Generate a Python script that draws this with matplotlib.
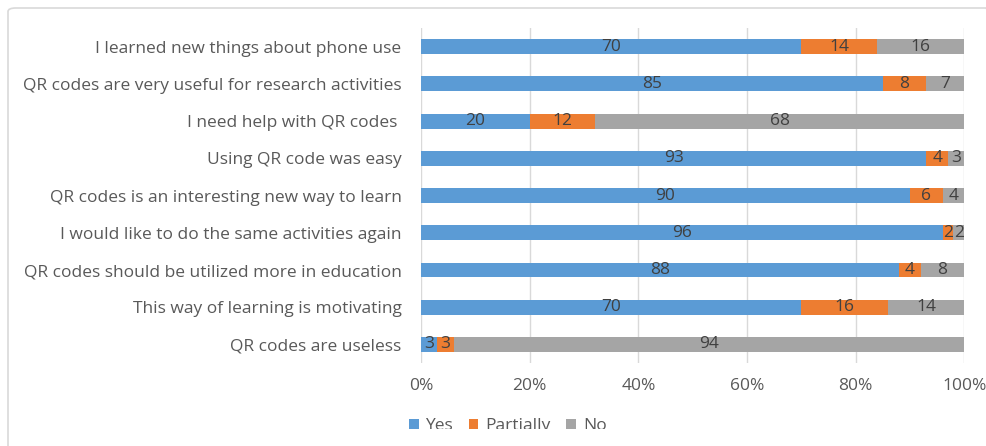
import matplotlib.pyplot as plt
from matplotlib.patches import FancyBboxPatch, Rectangle
import numpy as np

plt.rcParams['font.family'] = ['Open Sans', 'DejaVu Sans']

statements = [
    "I learned new things about phone use",
    "QR codes are very useful for research activities",
    "I need help with QR codes ",
    "Using QR code was easy",
    "QR codes is an interesting new way to learn",
    "I would like to do the same activities again",
    "QR codes should be utilized more in education",
    "This way of learning is motivating",
    "QR codes are useless",
]
yes = [70, 85, 20, 93, 90, 96, 88, 70, 3]
partially = [14, 8, 12, 4, 6, 2, 4, 16, 3]
no = [16, 7, 68, 3, 4, 2, 8, 14, 94]

series = [("Yes", yes, "#5B9BD5"), ("Partially", partially, "#ED7D31"), ("No", no, "#A5A5A5")]
ticks = [0, 20, 40, 60, 80, 100]
tick_labels = ["0%", "20%", "40%", "60%", "80%", "100%"]

text_col = "#595959"
label_col = "#404040"

fig = plt.figure(figsize=(9.86, 4.46), dpi=100)
ax = fig.add_axes([0.427, 0.186, 0.551, 0.751])

y = np.arange(len(statements))[::-1]
left = np.zeros(len(statements))
for name, vals, col in series:
    vals = np.array(vals, dtype=float)
    bars = ax.barh(y, vals, left=left, height=0.4, color=col, label=name, zorder=3)
    ax.bar_label(bars, labels=[str(int(v)) for v in vals], label_type='center',
                 color=label_col, fontsize=12.5, zorder=4)
    left += vals

ax.set_xlim(0, 100)
ax.set_ylim(-0.5, len(statements) - 0.5)
ax.set_xticks(ticks)
ax.set_xticklabels(tick_labels)
ax.set_yticks(y)
ax.set_yticklabels(statements)
ax.tick_params(axis='both', length=0, colors=text_col, labelsize=12.5)
ax.tick_params(axis='y', pad=14)
ax.tick_params(axis='x', pad=11)
ax.grid(axis='x', color='#D9D9D9', linewidth=1, zorder=0)
for s in ax.spines.values():
    s.set_visible(False)

leg = fig.legend(loc='center', bbox_to_anchor=(0.515, 0.045), ncol=3, frameon=False,
                 fontsize=12.5, handlelength=0.55, handleheight=0.55, handletextpad=0.4,
                 columnspacing=0.9)
for t in leg.get_texts():
    t.set_color(text_col)

# strip below the legend line, then the chart-area border
fig.patches.append(Rectangle((0.0105, 0.0), 0.99, 1 - 429 / 446, transform=fig.transFigure,
                             facecolor='white', edgecolor='none', zorder=10))
fig.patches.append(FancyBboxPatch((8 / 986, -0.05), 1.0, 1 - 8 / 446 + 0.05,
                                  boxstyle='round,pad=0,rounding_size=0.008',
                                  transform=fig.transFigure, facecolor='none',
                                  edgecolor='#D9D9D9', linewidth=1.2, zorder=11))

fig.savefig('out.png', dpi=100)
